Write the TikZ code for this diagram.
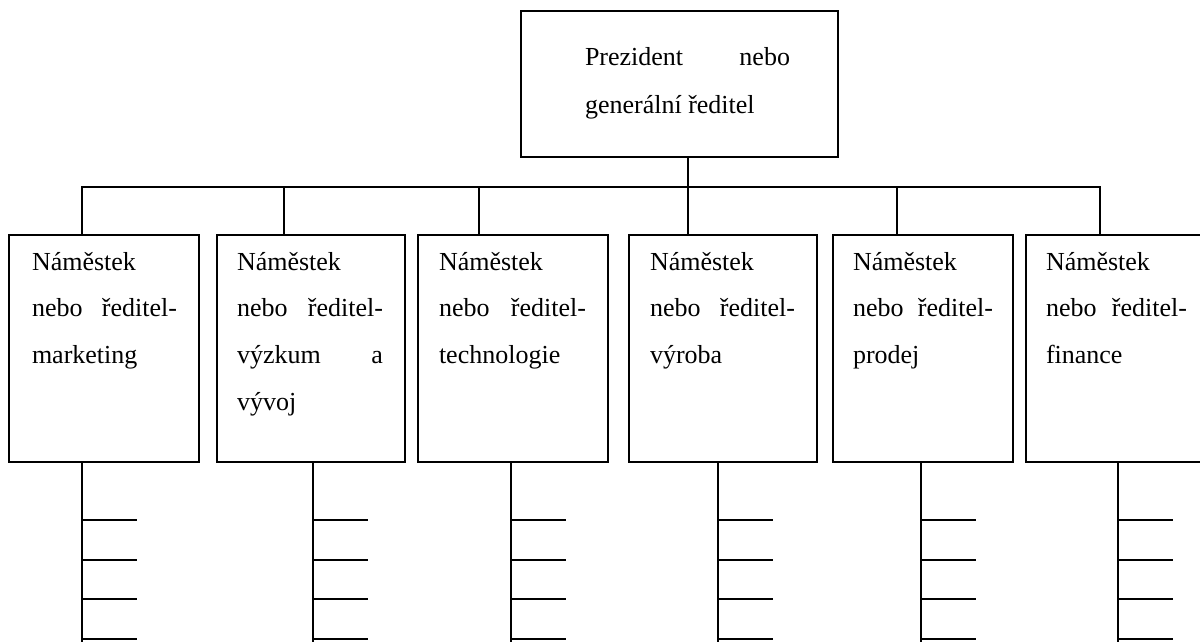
\documentclass[tikz,border=0pt]{standalone}
\usepackage{fontspec}
\setmainfont{Liberation Serif}
\tikzset{
  box/.style={draw, line width=1.6pt, inner sep=0pt, outer sep=0pt, anchor=north west},
  wire/.style={line width=1.6pt, line join=miter},
  lbl/.style={anchor=base west, inner sep=0pt, outer sep=0pt,
    font=\fontsize{26}{46.7}\selectfont},
}
% justified line of fixed width: first word left, last word right
\newcommand\spreadline[3]{\hbox to #1{#2\hfill #3}}
\begin{document}
\begin{tikzpicture}[x=1pt, y=-1pt]
  \useasboundingbox (0,0) rectangle (1200,641);

  % head of the organisation
  \node[box, minimum width=317pt, minimum height=146pt] (top) at (521,11) {};
  \node[lbl, font=\fontsize{26}{48}\selectfont] (ltop) at (585,65)
    {\vtop{\spreadline{205pt}{Prezident}{nebo}\hbox{generální ředitel}}};

  % deputy boxes: name / left x / width / stem above / stem below
  \foreach \n/\x/\w/\u/\d in {b1/9/190/82/82, b2/217/188/284/313, b3/418/190/479/511,
                              b4/629/188/688/718, b5/833/180/897/921, b6/1026/184/1100/1118} {
    \node[box, minimum width=\w pt, minimum height=227pt] (\n) at (\x,235) {};
    \coordinate (\n-up) at (\u,187);
    \coordinate (\n-dn) at (\d,643);
  }

  % bus line linking the deputies
  \draw[wire] (b1-up |- b1.north) -- (b1-up) -- (b6-up) -- (b6-up |- b6.north);
  \foreach \n in {b2,b3,b5} \draw[wire] (\n-up) -- (\n-up |- \n.north);
  \draw[wire] (top.south -| b4-up) -- (b4-up |- b4.north);

  % subordinate stems with their branches
  \foreach \n in {b1,b2,b3,b4,b5,b6} {
    \draw[wire] (\n.south -| \n-dn) -- (\n-dn);
    \foreach \k [count=\j] in {520,560,599,639} {
      \coordinate (\n-t\j) at (\n-dn |- 0,\k);
      \draw[wire] (\n-t\j) -- ++(55,0);
    }
  }

  % deputy labels
  \node[lbl] (l1) at (32,270)
    {\vtop{\hbox{Náměstek}\spreadline{145pt}{nebo}{ředitel-}\hbox{marketing}}};
  \node[lbl] (l2) at (237,270)
    {\vtop{\hbox{Náměstek}\spreadline{146pt}{nebo}{ředitel-}\spreadline{146pt}{výzkum}{a}\hbox{vývoj}}};
  \node[lbl] (l3) at (439,270)
    {\vtop{\hbox{Náměstek}\spreadline{147pt}{nebo}{ředitel-}\hbox{technologie}}};
  \node[lbl] (l4) at (650,270)
    {\vtop{\hbox{Náměstek}\spreadline{145pt}{nebo}{ředitel-}\hbox{výroba}}};
  \node[lbl] (l5) at (853,270)
    {\vtop{\hbox{Náměstek}\spreadline{140pt}{nebo}{ředitel-}\hbox{prodej}}};
  \node[lbl] (l6) at (1046,270)
    {\vtop{\hbox{Náměstek}\spreadline{141pt}{nebo}{ředitel-}\hbox{finance}}};
\end{tikzpicture}
\end{document}
